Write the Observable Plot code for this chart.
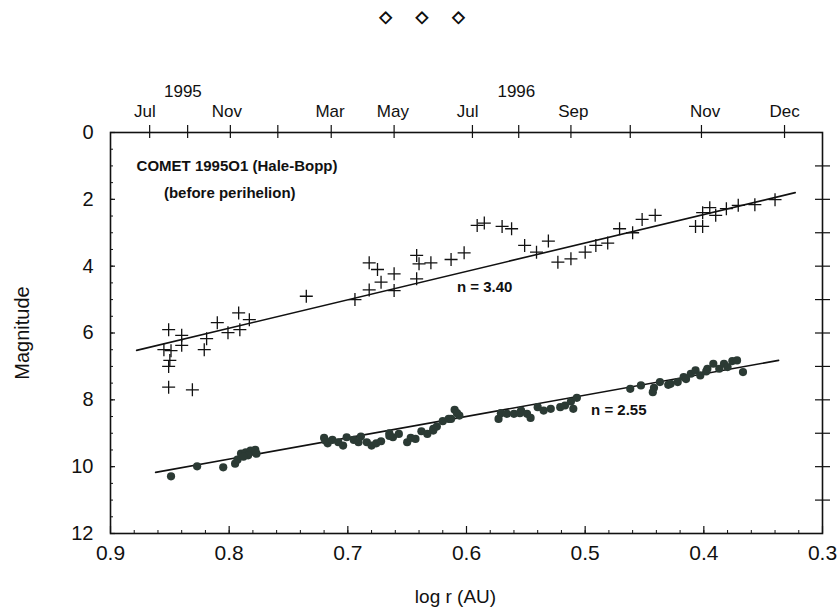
<!DOCTYPE html>
<html><head><meta charset="utf-8">
<script src="https://cdn.jsdelivr.net/npm/d3@7"></script>
<script src="https://cdn.jsdelivr.net/npm/@observablehq/plot@0.6"></script>
<style>
body{margin:0;background:#fff}
#wrap{position:relative;width:838px;height:611px}
#wrap svg{display:block}
#orn{position:absolute;top:7px;left:3px;width:838px;text-align:center;font:16px 'DejaVu Sans',sans-serif;color:#111;-webkit-text-stroke:0.9px #111}
#orn span{display:inline-block;margin:0 12px}
</style>
</head><body><div id="wrap"><div id="orn"><span>◇</span><span>◇</span><span>◇</span></div><div id="chart"></div></div>
<script>
// visual magnitudes (crosses) before perihelion
const crossLogR = [0.851,0.840,0.855,0.849,0.840,0.850,0.851,0.851,0.831,0.819,0.821,0.810,0.801,0.792,0.783,0.791,
  0.735,0.694,0.682,0.682,0.675,0.672,0.661,0.661,0.642,0.640,0.630,0.642,0.613,0.602,
  0.591,0.585,0.570,0.562,0.551,0.541,0.531,0.523,0.512,0.500,0.491,0.481,0.471,0.460,0.452,0.441,
  0.407,0.401,0.401,0.395,0.390,0.381,0.371,0.357,0.340];
const crossMag = [5.90,6.07,6.50,6.53,6.37,6.82,7.00,7.62,7.70,6.17,6.50,5.69,5.99,5.40,5.60,5.90,
  4.90,5.00,4.71,3.90,4.10,4.48,4.23,4.73,3.68,3.93,3.90,4.38,3.80,3.60,
  2.78,2.71,2.81,2.88,3.38,3.58,3.25,3.88,3.78,3.58,3.38,3.31,2.88,3.00,2.60,2.48,
  2.81,2.81,2.40,2.25,2.48,2.28,2.18,2.16,2.01];
// nuclear/CCD magnitudes (filled dots)
const dotLogR = [0.849,0.827,0.805,0.795,0.793,0.790,0.786,0.782,0.778,0.777,0.784,0.788,
  0.720,0.717,0.719,0.713,0.708,0.704,0.701,0.695,0.689,0.691,0.684,0.680,0.676,0.672,0.665,0.662,0.657,0.650,0.647,0.643,0.638,0.633,0.628,0.628,0.620,0.615,0.613,0.610,0.606,0.608,0.665,0.625,
  0.573,0.571,0.566,0.560,0.554,0.549,0.546,0.540,0.535,0.529,0.521,0.517,0.512,0.510,0.507,0.555,
  0.462,0.453,0.443,0.442,0.437,0.428,0.422,0.417,0.411,0.407,0.403,0.397,0.392,0.387,0.383,0.380,0.376,0.372,0.367,0.430,0.415,0.398];
const dotMag = [10.29,9.99,10.02,9.91,9.79,9.61,9.57,9.52,9.50,9.61,9.66,9.70,
  9.14,9.30,9.22,9.20,9.27,9.37,9.12,9.20,9.10,9.27,9.27,9.37,9.30,9.24,9.00,9.12,9.02,9.27,9.14,9.17,8.94,9.02,8.92,8.87,8.64,8.57,8.57,8.30,8.47,8.40,9.08,8.80,
  8.57,8.40,8.42,8.42,8.32,8.42,8.54,8.22,8.32,8.27,8.22,8.17,8.05,8.27,7.94,8.40,
  7.67,7.57,7.77,7.64,7.47,7.52,7.47,7.32,7.22,7.12,7.27,7.07,6.92,7.07,6.92,7.02,6.84,6.82,7.17,7.55,7.38,7.15];
// fitted lines (end points)
const fitCrossLogR = [0.878, 0.323];
const fitCrossMag = [6.52, 1.80];
const fitDotLogR = [0.862, 0.337];
const fitDotMag = [10.17, 6.82];
// axes
const xMajorTicks = [0.9, 0.8, 0.7, 0.6, 0.5, 0.4, 0.3];
const xMinorTicks = d3.range(0, 31).map(i => +(0.3 + i * 0.02).toFixed(2));
const yLabelTicks = [0, 2, 4, 6, 8, 10, 12];
const yMinorTicks = d3.range(0, 25).map(i => i * 0.5);
const yRightTicks = [1, 2, 3, 4, 5, 6, 7, 8, 9, 10, 11];
const topTickLogR = [0.867, 0.835, 0.799, 0.759, 0.714, 0.661, 0.595, 0.556, 0.512, 0.462, 0.402, 0.332];
const monthLabelLogR = [0.871, 0.802, 0.715, 0.662, 0.599, 0.510, 0.399, 0.332];
const monthLabels = ["Jul", "Nov", "Mar", "May", "Jul", "Sep", "Nov", "Dec"];
const yearLabelLogR = [0.839, 0.558];
const yearLabels = ["1995", "1996"];
// annotations
const noteLogR = [0.878, 0.855, 0.608, 0.495];
const noteMag = [1.02, 1.83, 4.64, 8.32];
const noteText = ["COMET 1995O1 (Hale-Bopp)", "(before perihelion)", "n = 3.40", "n = 2.55"];

const W = 838, H = 611, mL = 110, mR = 16, mT = 132, mB = 78;
const fw = W - mL - mR, fh = H - mT - mB;
const font = "'Liberation Sans', Arial, sans-serif";
const ink = "#111";
const plusSymbol = {draw(ctx, size) {const r = Math.sqrt(size / Math.PI); ctx.moveTo(-r, 0); ctx.lineTo(r, 0); ctx.moveTo(0, -r); ctx.lineTo(0, r);}};

const crosses = crossLogR.map((x, i) => ({x, y: crossMag[i]}));
const dots = dotLogR.map((x, i) => ({x, y: dotMag[i]}));
const fitA = fitCrossLogR.map((x, i) => ({x, y: fitCrossMag[i]}));
const fitB = fitDotLogR.map((x, i) => ({x, y: fitDotMag[i]}));
const notes = noteText.map((t, i) => ({x: noteLogR[i], y: noteMag[i], t}));
const months = monthLabels.map((t, i) => ({x: monthLabelLogR[i], t}));
const years = yearLabels.map((t, i) => ({x: yearLabelLogR[i], t}));

const chart = Plot.plot({
  width: W, height: H,
  marginLeft: mL, marginRight: mR, marginTop: mT, marginBottom: mB,
  style: {fontFamily: font, color: ink, background: "#fff", overflow: "visible"},
  x: {domain: [0.9, 0.3], axis: null},
  y: {domain: [0, 12], reverse: true, axis: null},
  marks: [
    Plot.frame({stroke: ink, strokeWidth: 1.6}),
    // bottom ticks (inward)
    Plot.tickX(xMinorTicks, {x: d => d, insetTop: fh - 3, stroke: ink, strokeWidth: 1}),
    Plot.tickX(xMajorTicks, {x: d => d, insetTop: fh - 7, stroke: ink, strokeWidth: 1.2}),
    Plot.text(xMajorTicks, {x: d => d, text: d => d.toFixed(1), frameAnchor: "bottom", dy: 20, lineAnchor: "middle", fontSize: 21, fill: ink}),
    // left ticks (inward)
    Plot.tickY(yMinorTicks, {y: d => d, insetRight: fw - 3, stroke: ink, strokeWidth: 1}),
    Plot.tickY(yLabelTicks, {y: d => d, insetRight: fw - 5, stroke: ink, strokeWidth: 1.2}),
    Plot.text(yLabelTicks, {y: d => d, text: d => String(d), frameAnchor: "left", textAnchor: "end", dx: -17, fontSize: 20, fill: ink}),
    // right ticks (crossing)
    Plot.tickY(yRightTicks, {y: d => d, insetLeft: fw - 7, insetRight: -8, stroke: ink, strokeWidth: 1.2}),
    // top ticks (crossing) and date labels
    Plot.tickX(topTickLogR, {x: d => d, insetBottom: fh - 6, insetTop: -7, stroke: ink, strokeWidth: 1.2}),
    Plot.text(months, {x: "x", text: "t", frameAnchor: "top", dy: -21, lineAnchor: "middle", fontSize: 17, fill: ink}),
    Plot.text(years, {x: "x", text: "t", frameAnchor: "top", dy: -41, lineAnchor: "middle", fontSize: 17, fill: ink}),
    // axis titles
    Plot.text(["Magnitude"], {frameAnchor: "left", textAnchor: "middle", rotate: -90, dx: -88, lineAnchor: "middle", fontSize: 20, fill: ink}),
    Plot.text(["log r (AU)"], {frameAnchor: "bottom", dy: 63, dx: -11, lineAnchor: "middle", fontSize: 19, fill: ink}),
    // fits
    Plot.line(fitA, {x: "x", y: "y", stroke: ink, strokeWidth: 1.6}),
    Plot.line(fitB, {x: "x", y: "y", stroke: ink, strokeWidth: 1.6}),
    // data
    Plot.dot(crosses, {x: "x", y: "y", symbol: plusSymbol, r: 6.5, stroke: ink, strokeWidth: 1.3, fill: "none"}),
    Plot.dot(dots, {x: "x", y: "y", r: 4.1, fill: "#2b3a34", stroke: "none"}),
    // annotations
    Plot.text(notes, {x: "x", y: "y", text: "t", textAnchor: "start", lineAnchor: "middle", fontWeight: "bold", fontSize: 15, fill: ink})
  ]
});
document.getElementById("chart").append(chart);
</script>
</body></html>
